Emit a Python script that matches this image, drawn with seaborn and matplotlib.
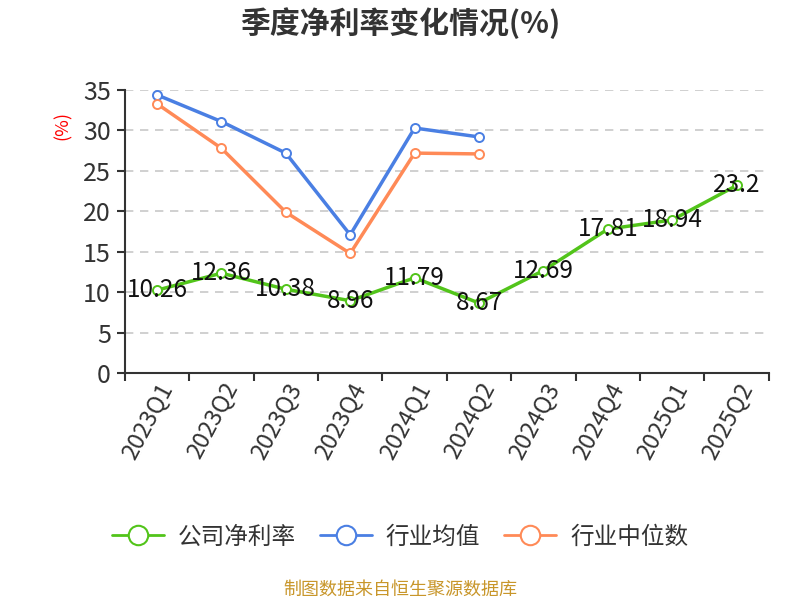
"""Quarterly net margin vs industry average / median."""

import matplotlib
matplotlib.use("Agg")
import matplotlib.pyplot as plt
from matplotlib.lines import Line2D
from matplotlib.ticker import FixedLocator, NullFormatter
import numpy as np
import pandas as pd
import seaborn as sns

QUARTERS = ["2023Q1", "2023Q2", "2023Q3", "2023Q4", "2024Q1",
            "2024Q2", "2024Q3", "2024Q4", "2025Q1", "2025Q2"]
COMPANY = [10.26, 12.36, 10.38, 8.96, 11.79, 8.67, 12.69, 17.81, 18.94, 23.2]
IND_MEAN = [34.4, 31.1, 27.2, 17.1, 30.3, 29.2]
IND_MEDIAN = [33.3, 27.8, 19.9, 14.8, 27.2, 27.1]

SERIES = ["公司净利率", "行业均值", "行业中位数"]
COLORS = {"公司净利率": "#52C41A", "行业均值": "#4A7FE3", "行业中位数": "#FF8A57"}

sns.set_theme(style="white")
plt.rcParams["font.family"] = ["Noto Sans CJK SC", "DejaVu Sans"]

rows = []
for q, v in zip(QUARTERS, COMPANY):
    rows.append({"quarter": q, "value": v, "series": SERIES[0]})
for q, v in zip(QUARTERS, IND_MEAN):
    rows.append({"quarter": q, "value": v, "series": SERIES[1]})
for q, v in zip(QUARTERS, IND_MEDIAN):
    rows.append({"quarter": q, "value": v, "series": SERIES[2]})
df = pd.DataFrame(rows)
df["pos"] = df["quarter"].map({q: i for i, q in enumerate(QUARTERS)})

fig = plt.figure(figsize=(8, 6), dpi=100)
ax = fig.add_axes([0.156, 0.378, 0.805, 0.472])

sns.lineplot(data=df, x="pos", y="value", hue="series", hue_order=SERIES,
             palette=COLORS, marker="o", markersize=6.5, markerfacecolor="white",
             markeredgewidth=1.4, linewidth=2.5, sort=False, legend=False, ax=ax)
for line in ax.lines:
    line.set_markeredgecolor(line.get_color())

for i, v in enumerate(COMPANY):
    ax.text(i, v, f"{v:g}", ha="center", va="center", fontsize=17.5,
            color="#111111", zorder=5)

ax.set_xlim(-0.5, len(QUARTERS) - 0.5)
ax.set_ylim(0, 35)
ax.xaxis.set_major_locator(FixedLocator(np.arange(-0.5, len(QUARTERS), 1.0)))
ax.xaxis.set_major_formatter(NullFormatter())
ax.xaxis.set_minor_locator(FixedLocator(np.arange(len(QUARTERS))))
ax.set_xticks(np.arange(len(QUARTERS)), QUARTERS, minor=True)
ax.tick_params(axis="x", which="minor", length=0, labelsize=17, colors="#333333",
               labelrotation=62, pad=4)
for lab in ax.get_xticklabels(minor=True):
    lab.set_ha("right")
    lab.set_rotation_mode("anchor")
ax.tick_params(axis="x", which="major", length=6, width=1.5, color="#333333",
               direction="out", bottom=True)
ax.set_yticks(range(0, 36, 5))
ax.tick_params(axis="y", length=6, width=1.5, color="#333333", labelsize=18,
               labelcolor="#333333", direction="out", left=True, pad=4)

ax.grid(axis="y", linestyle=(0, (5, 4)), color="#c8c8c8", linewidth=1.2)
ax.grid(axis="x", visible=False)
for side in ("top", "right"):
    ax.spines[side].set_visible(False)
for side in ("left", "bottom"):
    ax.spines[side].set_color("#333333")
    ax.spines[side].set_linewidth(1.5)
ax.set_xlabel("")
ax.set_ylabel("")

fig.text(0.078, 0.79, "(%)", rotation=90, color="red", fontsize=13,
         ha="center", va="center")
fig.text(0.5, 0.962, "季度净利率变化情况(%)", fontsize=21.5, fontweight="bold",
         color="#333333", ha="center", va="center")

handles = [Line2D([0], [0], color=COLORS[s], linewidth=2, marker="o",
                  markersize=14, markerfacecolor="white", markeredgewidth=1.5,
                  markeredgecolor=COLORS[s]) for s in SERIES]
fig.legend(handles, SERIES, loc="center", bbox_to_anchor=(0.5, 0.105), ncol=3,
           frameon=False, fontsize=17, handlelength=2.2, columnspacing=1.0,
           handletextpad=0.6, labelcolor="#333333")

fig.text(0.5, 0.017, "制图数据来自恒生聚源数据库", fontsize=13, color="#C8962A",
         ha="center", va="center")

fig.savefig("out.png", dpi=100)
